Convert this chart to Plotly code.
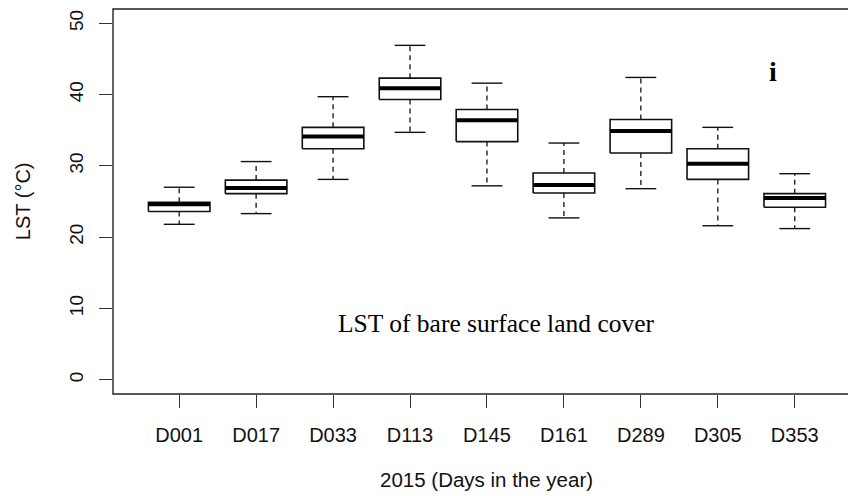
import plotly.graph_objects as go

# Land surface temperature (°C) of bare surface, summary statistics per acquisition day
days = ["D001", "D017", "D033", "D113", "D145", "D161", "D289", "D305", "D353"]
lower_whisker = [21.8, 23.3, 28.1, 34.7, 27.2, 22.7, 26.8, 21.6, 21.2]
q1 = [23.6, 26.1, 32.4, 39.3, 33.4, 26.2, 31.8, 28.1, 24.2]
median = [24.6, 26.9, 34.1, 40.9, 36.4, 27.3, 34.9, 30.3, 25.5]
q3 = [24.9, 28.0, 35.4, 42.3, 37.9, 29.0, 36.5, 32.4, 26.1]
upper_whisker = [27.0, 30.6, 39.7, 46.9, 41.6, 33.2, 42.4, 35.4, 28.9]

y_ticks = [0, 10, 20, 30, 40, 50]

BOX_HALF = 0.4     # R boxwex 0.8
CAP_HALF = 0.2     # staple half width
SANS = "Arial, Liberation Sans, sans-serif"
SERIF = "Times New Roman, Liberation Serif, serif"

positions = list(range(1, len(days) + 1))

box_x, box_y = [], []
med_x, med_y = [], []
wh_x, wh_y = [], []
cap_x, cap_y = [], []
for p, lo, a, m, b, hi in zip(positions, lower_whisker, q1, median, q3, upper_whisker):
    box_x += [p - BOX_HALF, p + BOX_HALF, p + BOX_HALF, p - BOX_HALF, p - BOX_HALF, None]
    box_y += [a, a, b, b, a, None]
    med_x += [p - BOX_HALF, p + BOX_HALF, None]
    med_y += [m, m, None]
    wh_x += [p, p, None, p, p, None]
    wh_y += [b, hi, None, a, lo, None]
    cap_x += [p - CAP_HALF, p + CAP_HALF, None, p - CAP_HALF, p + CAP_HALF, None]
    cap_y += [hi, hi, None, lo, lo, None]

fig = go.Figure()
fig.add_trace(go.Scatter(x=wh_x, y=wh_y, mode="lines", hoverinfo="skip",
                         line=dict(color="#111111", width=1.3, dash="5px,4px")))
fig.add_trace(go.Scatter(x=cap_x, y=cap_y, mode="lines", hoverinfo="skip",
                         line=dict(color="#111111", width=1.4)))
fig.add_trace(go.Scatter(x=box_x, y=box_y, mode="lines", hoverinfo="skip",
                         fill="toself", fillcolor="white",
                         line=dict(color="#111111", width=1.6)))
fig.add_trace(go.Scatter(x=med_x, y=med_y, mode="lines", hoverinfo="skip",
                         line=dict(color="black", width=4)))

fig.update_layout(
    width=848, height=496,
    margin=dict(l=113, r=0, t=9, b=102),
    paper_bgcolor="white", plot_bgcolor="white",
    showlegend=False,
    xaxis=dict(
        range=[0.14, 9.692],
        tickmode="array", tickvals=positions, ticktext=days,
        ticks="outside", ticklen=13, tickwidth=1.2, tickcolor="#333333",
        showgrid=False, zeroline=False, showline=False,
        tickfont=dict(family=SANS, size=20, color="#111111"),
        ticklabelstandoff=10,
    ),
    yaxis=dict(
        range=[-2, 52],
        tickmode="array", tickvals=y_ticks,
        ticks="outside", ticklen=13, tickwidth=1.2, tickcolor="#333333",
        tickangle=-90,
        showgrid=False, zeroline=False, showline=False,
        tickfont=dict(family=SANS, size=19, color="#111111"),
        ticklabelstandoff=8,
    ),
    shapes=[
        # plot frame (open on the right where the page ends)
        dict(type="rect", xref="paper", yref="paper", x0=0, x1=1.05, y0=0, y1=1,
             line=dict(color="#222222", width=1.4), layer="above"),
    ],
    annotations=[
        dict(text="LST (°C)", xref="paper", yref="paper", x=-0.1224, y=0.501,
             textangle=-90, showarrow=False, xanchor="center", yanchor="middle",
             font=dict(family=SANS, size=20, color="#111111")),
        dict(text="2015 (Days in the year)", xref="paper", yref="paper",
             x=0.5082, y=-0.2208, showarrow=False, xanchor="center", yanchor="middle",
             font=dict(family=SANS, size=20.5, color="#111111")),
        dict(text="LST of bare surface land cover", xref="x", yref="y",
             x=5.13, y=7.95, showarrow=False, xanchor="center", yanchor="middle",
             font=dict(family=SERIF, size=25.5, color="black")),
        dict(text="<b>i</b>", xref="x", yref="y", x=8.72, y=43.3,
             showarrow=False, xanchor="center", yanchor="middle",
             font=dict(family=SERIF, size=28, color="black")),
    ],
)

fig.write_html("out.html")
